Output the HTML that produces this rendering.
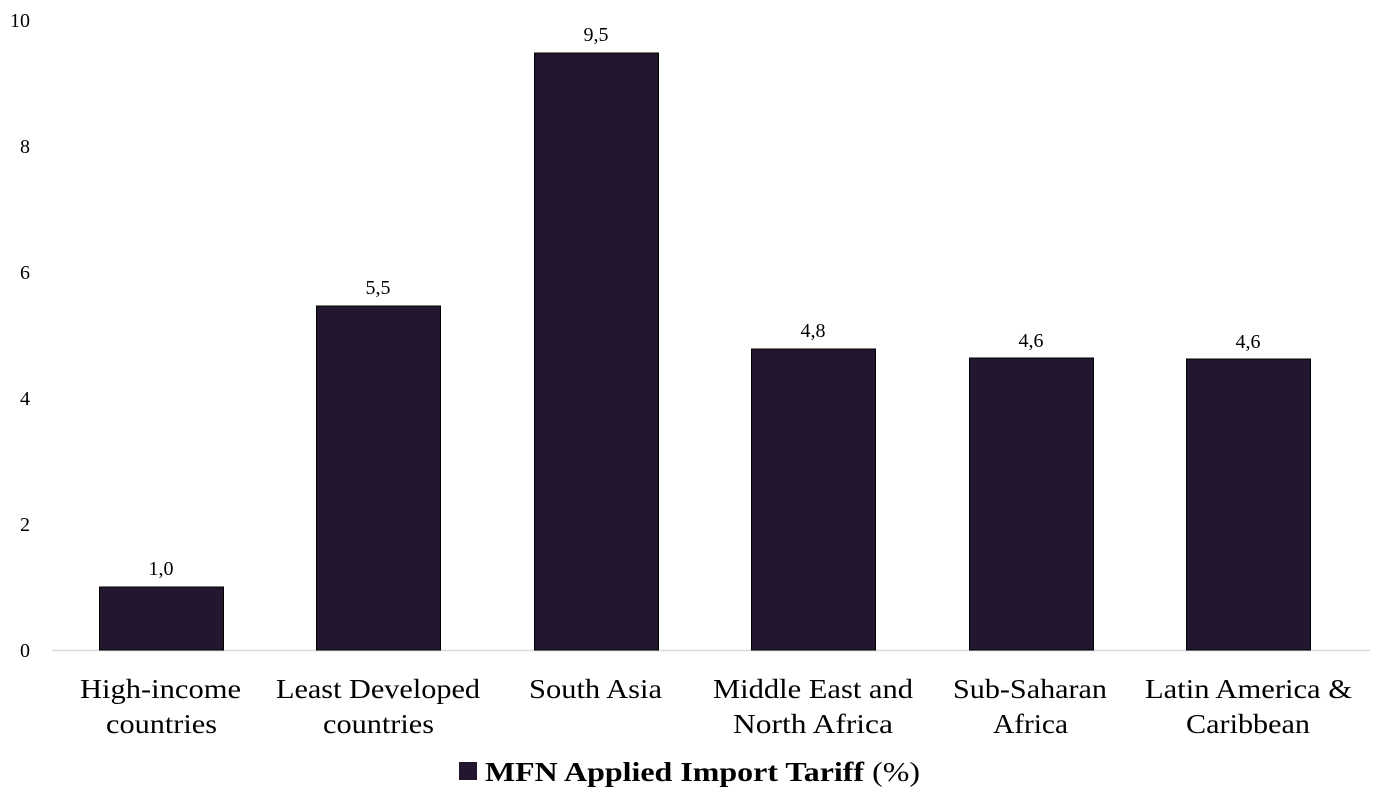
<!DOCTYPE html>
<html><head><meta charset="utf-8"><style>body{margin:0;background:#fff}</style></head><body>
<svg width="1373" height="802" xmlns="http://www.w3.org/2000/svg" font-family="Liberation Serif, serif">
<line x1="52" y1="650.5" x2="1370" y2="650.5" stroke="#d9d9d9" stroke-width="1.5"/>
<g font-size="20" fill="#000" text-anchor="end">
<text x="30" y="657">0</text><text x="30" y="531">2</text><text x="30" y="405">4</text><text x="30" y="279">6</text><text x="30" y="153">8</text><text x="30" y="27">10</text>
</g>
<g fill="#231730" stroke="#000" stroke-width="1">
<rect x="99.5" y="587" width="124" height="63"/>
<rect x="316.5" y="306" width="124" height="344"/>
<rect x="534.5" y="53" width="124" height="597"/>
<rect x="751.5" y="349" width="124" height="301"/>
<rect x="969.5" y="358" width="124" height="292"/>
<rect x="1186.5" y="359" width="124" height="291"/>
</g>
<g font-size="20" text-anchor="middle" fill="#000">
<text x="161" y="575">1,0</text><text x="378" y="294">5,5</text><text x="596" y="41">9,5</text>
<text x="813" y="337">4,8</text><text x="1031" y="347">4,6</text><text x="1248" y="348">4,6</text>
</g>
<g font-size="27" fill="#000" lengthAdjust="spacingAndGlyphs">
<text x="80" y="698" textLength="161" lengthAdjust="spacingAndGlyphs">High-income</text>
<text x="106" y="733" textLength="111" lengthAdjust="spacingAndGlyphs">countries</text>
<text x="276" y="698" textLength="204" lengthAdjust="spacingAndGlyphs">Least Developed</text>
<text x="323" y="733" textLength="111" lengthAdjust="spacingAndGlyphs">countries</text>
<text x="529" y="698" textLength="133" lengthAdjust="spacingAndGlyphs">South Asia</text>
<text x="713" y="698" textLength="200" lengthAdjust="spacingAndGlyphs">Middle East and</text>
<text x="733" y="733" textLength="160" lengthAdjust="spacingAndGlyphs">North Africa</text>
<text x="953" y="698" textLength="154" lengthAdjust="spacingAndGlyphs">Sub-Saharan</text>
<text x="993" y="733" textLength="75" lengthAdjust="spacingAndGlyphs">Africa</text>
<text x="1145" y="698" textLength="207" lengthAdjust="spacingAndGlyphs">Latin America &amp;</text>
<text x="1186" y="733" textLength="124" lengthAdjust="spacingAndGlyphs">Caribbean</text>
</g>
<rect x="459" y="762" width="18" height="18" fill="#231730"/>
<text x="485" y="781" font-size="27" font-weight="bold" textLength="435" lengthAdjust="spacingAndGlyphs">MFN Applied Import Tariff <tspan font-weight="normal">(%)</tspan></text>
</svg>
</body></html>
